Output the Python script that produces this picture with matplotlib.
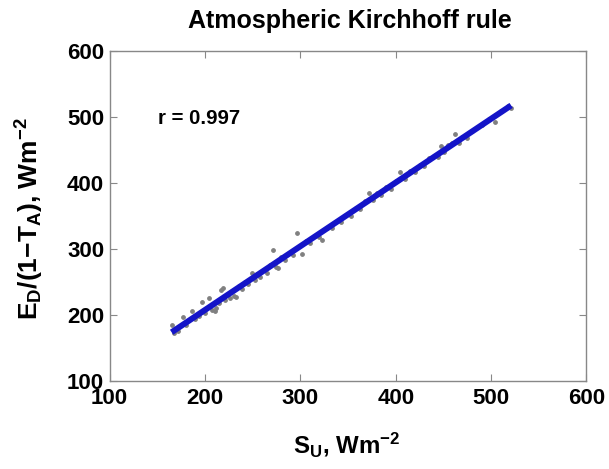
import numpy as np
import matplotlib
matplotlib.use("Agg")
import matplotlib.pyplot as plt

plt.rcParams['font.family'] = ['Liberation Sans', 'DejaVu Sans']
plt.rcParams['font.weight'] = 'bold'
plt.rcParams['mathtext.fontset'] = 'custom'
plt.rcParams['mathtext.rm'] = 'Liberation Sans:bold'
plt.rcParams['mathtext.it'] = 'Liberation Sans:bold'
plt.rcParams['mathtext.bf'] = 'Liberation Sans:bold'
plt.rcParams['mathtext.default'] = 'bf'

# upwelling surface flux vs. E_D/(1-T_A)
s_u = [165, 168, 172, 177, 180, 186, 190, 194, 197, 200, 204, 207, 210, 212,
       215, 217, 219, 221, 224, 226, 228, 230, 233, 236, 239, 242, 245, 249,
       252, 255, 258, 262, 265, 268, 271, 274, 277, 280, 284, 288, 292, 297,
       302, 306, 310, 315, 320, 323, 328, 333, 338, 343, 348, 353, 358, 363,
       368, 372, 376, 380, 385, 390, 395, 400, 405, 410, 415, 420, 425, 430,
       435, 440, 444, 447, 451, 455, 459, 462, 466, 470, 475, 480, 490, 498,
       504, 510, 518, 521]
e_d = [184, 172, 176, 197, 184, 206, 193, 198, 219, 203, 226, 208, 205, 211,
       218, 238, 241, 222, 232, 225, 236, 229, 227, 243, 239, 249, 246, 263,
       252, 262, 257, 268, 264, 275, 298, 273, 271, 287, 283, 294, 291, 324,
       292, 311, 308, 320, 318, 314, 332, 331, 342, 340, 351, 350, 361, 360,
       372, 385, 374, 384, 382, 393, 391, 403, 416, 406, 417, 416, 427, 425,
       437, 441, 439, 455, 446, 457, 460, 474, 460, 469, 468, 479, 488, 496,
       492, 508, 516, 513]
r_text = "r = 0.997"

W, H = 609, 469

x = np.array(s_u)
y = np.array(e_d)
k, b = np.polyfit(x, y, 1)
xf = np.array([x.min(), x.max()])

fig = plt.figure(figsize=(W / 100, H / 100), dpi=100)
ax = fig.add_axes([0.180, 0.188, 0.783, 0.704])

ax.scatter(x, y, s=6, color='#808080', zorder=2)
ax.plot(xf, k * xf + b, color='#1414c8', linewidth=4.3, solid_capstyle='butt', zorder=3)

ax.set_xlim(100, 600)
ax.set_ylim(100, 600)
ax.set_xticks([100, 200, 300, 400, 500, 600])
ax.set_yticks([100, 200, 300, 400, 500, 600])
ax.tick_params(direction='in', top=True, right=True, labelsize=16, length=5,
               color='#888888')
ax.tick_params(axis='x', pad=5)
ax.tick_params(axis='y', pad=4)
for lab in ax.get_xticklabels() + ax.get_yticklabels():
    lab.set_fontweight('bold')
for sp in ax.spines.values():
    sp.set_color('#888888')
    sp.set_linewidth(1.0)

# all free texts placed by pixel box (top-left origin)
title = fig.text(0.5, 0.9, "Atmospheric Kirchhoff rule", fontsize=17, fontweight='bold',
                 ha='left', va='bottom')
rtxt = fig.text(0.3, 0.7, r_text, fontsize=14, fontweight='bold', ha='left', va='bottom')
xlab = fig.text(0.5, 0.05, r"$S_U$, Wm$^{-2}$", fontsize=17, fontweight='bold',
                ha='left', va='bottom')
ylab = fig.text(0.05, 0.5, r"$E_D$/(1$-$$T_A$), Wm$^{-2}$", fontsize=17, fontweight='bold',
                ha='left', va='bottom', rotation=90)

# (artist, left, top, right, bottom, size from 'w' or 'h')
boxes = [
    (title, 187, 8, 512, 33, 'w'),
    (rtxt, 158, 109, 240, 128, 'w'),
    (xlab, 293, 426, 400, 463, 'w'),
    (ylab, 12, 117, 47, 320, 'h'),
]

fig.canvas.draw()
r = fig.canvas.get_renderer()
for art, l, t, rr, bt, mode in boxes:
    for _ in range(3):
        bb = art.get_window_extent(r)
        if mode == 'w':
            art.set_fontsize(art.get_fontsize() * (rr - l) / bb.width)
        else:
            art.set_fontsize(art.get_fontsize() * (bt - t) / bb.height)
    bb = art.get_window_extent(r)
    cx, cy = (l + rr) / 2, H - (t + bt) / 2
    px, py = art.get_position()
    px = px + (cx - (bb.x0 + bb.x1) / 2) / W
    py = py + (cy - (bb.y0 + bb.y1) / 2) / H
    art.set_position((px, py))

plt.savefig("out.png", dpi=100)
